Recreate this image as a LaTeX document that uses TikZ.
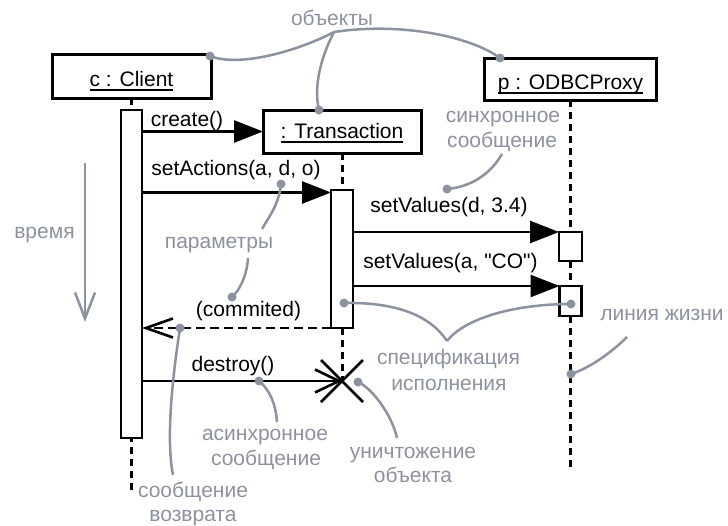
\documentclass[tikz,border=0pt]{standalone}
\usepackage{fontspec}
\setmainfont{Liberation Sans}[Ligatures=TeXOff]
\usetikzlibrary{arrows.meta}
\definecolor{notegray}{RGB}{140,146,159}
\newcommand\objname[1]{\setbox0\hbox{#1}\rlap{\rule[-4.7pt]{\wd0}{1.5pt}}\box0}
\begin{document}
\begin{tikzpicture}[x=1pt,y=-1pt,
  font=\fontsize{21}{25}\selectfont,
  obj/.style={draw=black,line width=3pt,fill=white,inner sep=0pt,outer sep=0pt,text depth=0pt},
  act/.style={draw=black,line width=2.8pt,fill=white,inner sep=0pt,outer sep=0pt},
  life/.style={draw=black,line width=3pt,dash pattern=on 7pt off 5pt},
  msg/.style={draw=black,line width=2.6pt},
  syncmsg/.style={msg,-{Triangle[length=29pt,width=22pt]}},
  asyncmsg/.style={msg,-{Straight Barb[length=24pt,width=23pt,line width=2.6pt]}},
  retmsg/.style={msg,dash pattern=on 9pt off 5pt,-{Straight Barb[length=27pt,width=19pt,line width=2.6pt]}},
  lbl/.style={anchor=base,inner sep=0pt,text=black},
  note/.style={anchor=base,inner sep=0pt,text=notegray},
  pointer/.style={draw=notegray,line width=2.5pt},
  timearrow/.style={draw=notegray,line width=2.5pt,-{Straight Barb[length=26pt,width=20pt,line width=2.5pt]}},
  dot/.style={circle,fill=notegray,inner sep=0pt,minimum size=9pt},
]
\useasboundingbox (0,0) rectangle (728,525);
\fill[white] (0,0) rectangle (728,525);

% lifeline end points
\coordinate (cend) at (131.5,490);
\coordinate (pend) at (570.5,470);
\coordinate (xmark) at (342,381);

% objects
\node[obj,minimum width=159pt,minimum height=44pt,text height=20pt] (client) at (131.5,76) {\objname{c : Client}};
\node[obj,minimum width=158pt,minimum height=43pt,text height=13pt] (trans) at (342,131.5) {\objname{: Transaction}};
\node[obj,minimum width=172pt,minimum height=42pt,text height=20pt] (proxy) at (570.5,79) {\objname{p : ODBCProxy}};

% lifelines
\draw[life] (client.south) -- (131.5,110);
\draw[life] (cend) -- (131.5,438);
\draw[life] (trans.south) -- (342,190);
\draw[life] (342,328) -- (xmark);
\draw[life] (proxy.south) -- (570.5,232);
\draw[life] (570.5,261) -- (570.5,286);
\draw[life] (570.5,316) -- (pend);

% execution specifications
\node[act,minimum width=21pt,minimum height=328pt] (cact) at (131.5,274) {};
\node[act,minimum width=22pt,minimum height=138pt] (tact) at (342,259) {};
\node[act,minimum width=23pt,minimum height=29pt] (pact1) at (570.5,246.5) {};
\node[act,minimum width=22pt,minimum height=30pt] (pact2) at (570.5,301) {};

% messages
\coordinate (sa) at ([yshift=-2.5pt]tact.north west);
\draw[syncmsg] (cact.east |- trans.west) -- (trans.west);
\draw[syncmsg] (cact.east |- sa) -- (sa);
\draw[syncmsg] (tact.east |- pact1.north west) -- (pact1.north west);
\draw[syncmsg] (tact.east |- pact2.north west) -- (pact2.north west);
\draw[retmsg] (tact.south west) -- (cact.east |- tact.south west);
\draw[asyncmsg] (cact.east |- xmark) -- (xmark);
\draw[msg] ([shift={(-21,-21)}]xmark) -- ([shift={(21,21)}]xmark);
\draw[msg] ([shift={(-21,21)}]xmark) -- ([shift={(21,-21)}]xmark);

% message labels
\node[lbl] (lcreate) at (187,126) {create()};
\node[lbl] (lsetact) at (236,175) {setActions(a, d, o)};
\node[lbl] (lsv1) at (449,212) {setValues(d, 3.4)};
\node[lbl] (lsv2) at (450.5,268) {setValues(a, "CO")};
\node[lbl] (lcomm) at (248.5,316) {(commited)};
\node[lbl] (ldestroy) at (233,371) {destroy()};

% notes
\node[note] (nobj) at (332,25) {объекты};
\node[note] (nsync1) at (503,122) {синхронное};
\node[note] (nsync2) at (502,147) {сообщение};
\node[note] (nparam) at (219,248) {параметры};
\node[note] (ntime) at (44.5,238) {время};
\node[note] (nlife) at (662,320) {линия жизни};
\node[note] (nspec1) at (448.5,364) {спецификация};
\node[note] (nspec2) at (449,390) {исполнения};
\node[note] (nasync1) at (265,440) {асинхронное};
\node[note] (nasync2) at (266,465) {сообщение};
\node[note] (ndest1) at (413,458) {уничтожение};
\node[note] (ndest2) at (413,482) {объекта};
\node[note] (nret1) at (193,497) {сообщение};
\node[note] (nret2) at (193,521) {возврата};

% pointer start points
\coordinate (objfork) at (334,32);
\coordinate (psync) at (502,154);
\coordinate (pparam1) at (262,229);
\coordinate (pparam2) at (248,258);
\coordinate (pret) at (173,475);
\coordinate (pasync) at (277,422);
\coordinate (pdest) at (397,438);
\coordinate (papex) at (447,341);
\coordinate (plife) at (627,337);
\coordinate (tstart) at (85,163);
\coordinate (tend) at (85,322);

% dots
\node[dot] (dclient) at (210,56) {};
\node[dot] (dtrans) at (319,110) {};
\node[dot] (dproxy) at (500,58) {};
\node[dot] (dsync) at (447,189) {};
\node[dot] (dparam) at (281,184) {};
\node[dot] (dcomm) at (232,297) {};
\node[dot] (dret) at (180,328) {};
\node[dot] (ddest) at (259,381) {};
\node[dot] (dx) at (358,382) {};
\node[dot] (dspecl) at (344,303) {};
\node[dot] (dspecr) at (571,304) {};
\node[dot] (dlife) at (571,374) {};

% pointers
\draw[pointer] (objfork) .. controls (300,50) and (240,68) .. (dclient.center);
\draw[pointer] (objfork) .. controls (322,55) and (313,85) .. (dtrans.center);
\draw[pointer] (objfork) .. controls (400,22) and (470,36) .. (dproxy.center);
\draw[pointer] (psync) .. controls (490,175) and (470,187) .. (dsync.center);
\draw[pointer] (dparam.center) .. controls (279,205) and (268,218) .. (pparam1);
\draw[pointer] (pparam2) .. controls (247,275) and (240,290) .. (dcomm.center);
\draw[pointer] (dret.center) .. controls (172,380) and (166,440) .. (pret);
\draw[pointer] (ddest.center) .. controls (270,390) and (276,405) .. (pasync);
\draw[pointer] (dx.center) .. controls (372,388) and (392,415) .. (pdest);
\draw[pointer] (dspecl.center) .. controls (395,302) and (430,315) .. (papex);
\draw[pointer] (dspecr.center) .. controls (515,304) and (465,318) .. (papex);
\draw[pointer] (dlife.center) .. controls (590,368) and (612,352) .. (plife);
\draw[timearrow] (tstart) -- (tend);
\end{tikzpicture}
\end{document}
